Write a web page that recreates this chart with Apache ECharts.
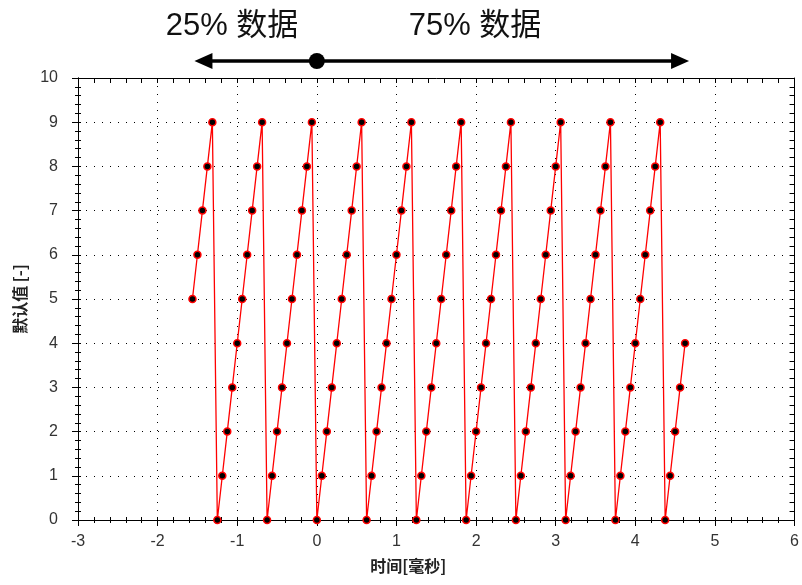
<!DOCTYPE html>
<html>
<head>
<meta charset="utf-8">
<script src="https://cdn.jsdelivr.net/npm/echarts@6/dist/echarts.min.js"></script>
<style>
html,body{margin:0;padding:0;background:#fff;}
#chart{width:802px;height:585px;}
</style>
</head>
<body>
<div id="chart"></div>
<script>
// ---- data ----
var times = [
  -1.5625, -1.5, -1.4375, -1.375, -1.3125, -1.25, -1.1875, -1.125, -1.0625, -1,
  -0.9375, -0.875, -0.8125, -0.75, -0.6875, -0.625, -0.5625, -0.5, -0.4375, -0.375,
  -0.3125, -0.25, -0.1875, -0.125, -0.0625, 0, 0.0625, 0.125, 0.1875, 0.25,
  0.3125, 0.375, 0.4375, 0.5, 0.5625, 0.625, 0.6875, 0.75, 0.8125, 0.875,
  0.9375, 1, 1.0625, 1.125, 1.1875, 1.25, 1.3125, 1.375, 1.4375, 1.5,
  1.5625, 1.625, 1.6875, 1.75, 1.8125, 1.875, 1.9375, 2, 2.0625, 2.125,
  2.1875, 2.25, 2.3125, 2.375, 2.4375, 2.5, 2.5625, 2.625, 2.6875, 2.75,
  2.8125, 2.875, 2.9375, 3, 3.0625, 3.125, 3.1875, 3.25, 3.3125, 3.375,
  3.4375, 3.5, 3.5625, 3.625, 3.6875, 3.75, 3.8125, 3.875, 3.9375, 4,
  4.0625, 4.125, 4.1875, 4.25, 4.3125, 4.375, 4.4375, 4.5, 4.5625, 4.625
];
var values = [
  5, 6, 7, 8, 9, 0, 1, 2, 3, 4,
  5, 6, 7, 8, 9, 0, 1, 2, 3, 4,
  5, 6, 7, 8, 9, 0, 1, 2, 3, 4,
  5, 6, 7, 8, 9, 0, 1, 2, 3, 4,
  5, 6, 7, 8, 9, 0, 1, 2, 3, 4,
  5, 6, 7, 8, 9, 0, 1, 2, 3, 4,
  5, 6, 7, 8, 9, 0, 1, 2, 3, 4,
  5, 6, 7, 8, 9, 0, 1, 2, 3, 4,
  5, 6, 7, 8, 9, 0, 1, 2, 3, 4,
  5, 6, 7, 8, 9, 0, 1, 2, 3, 4
];
var xTicks = { min: -3, max: 6, interval: 1 };
var yTicks = { min: 0, max: 10, interval: 1 };
var xTitle = '时间[毫秒]';
var yTitle = '默认值 [-]';
var preLabel = '25% 数据';
var postLabel = '75% 数据';
var triggerTime = 0;

// ---- chart ----
var pairs = times.map(function (t, i) { return [t, values[i]]; });
var FONT = '"Liberation Sans", Arial, "Noto Sans CJK SC", sans-serif';
var CJK = '"Noto Sans CJK SC", "Liberation Sans", sans-serif';
var black = '#000';

function baseAxis(t, extra) {
  var a = {
    type: 'value', min: t.min, max: t.max, interval: t.interval,
    axisLine: { show: true, onZero: false, lineStyle: { color: black, width: 1 } },
    axisTick: { show: true, inside: false, length: 6, lineStyle: { color: black, width: 1 } },
    minorTick: { show: true, splitNumber: 5, length: 3, lineStyle: { color: black, width: 1 } },
    axisLabel: { show: false },
    splitLine: { show: false },
    minorSplitLine: { show: false }
  };
  for (var k in extra) a[k] = extra[k];
  return a;
}

var chart = echarts.init(document.getElementById('chart'), null, { renderer: 'canvas' });
var option = {
  backgroundColor: '#fff',
  animation: false,
  grid: { left: 78, right: 6, top: 78, bottom: 65, containLabel: false },
  xAxis: [
    baseAxis(xTicks, {
      position: 'bottom',
      axisLabel: { show: true, color: '#333', fontSize: 16, fontFamily: FONT, margin: 14 },
      splitLine: { show: true, lineStyle: { color: black, width: 1, type: [1, 7] } },
      name: xTitle, nameLocation: 'middle', nameGap: 38,
      nameTextStyle: { fontFamily: CJK, fontWeight: 'bold', fontSize: 16, color: '#222', padding: [0, 56, 0, 0] }
    }),
    baseAxis(xTicks, {
      position: 'bottom',
      axisTick: { show: true, inside: true, length: 3, lineStyle: { color: black } },
      minorTick: { show: true, splitNumber: 5, length: 3, lineStyle: { color: black } }
    }),
    baseAxis(xTicks, {
      position: 'top',
      axisTick: { show: true, inside: true, length: 5, lineStyle: { color: black } },
      minorTick: { show: true, splitNumber: 5, length: 5, lineStyle: { color: black } }
    })
  ],
  yAxis: [
    baseAxis(yTicks, {
      position: 'left',
      axisLabel: { show: true, color: '#333', fontSize: 16, fontFamily: FONT, margin: 20 },
      splitLine: { show: true, lineStyle: { color: black, width: 1, type: [1, 7] } },
      name: yTitle, nameLocation: 'middle', nameGap: 50,
      nameTextStyle: { fontFamily: CJK, fontWeight: 'bold', fontSize: 16, color: '#222' }
    }),
    baseAxis(yTicks, {
      position: 'left',
      axisTick: { show: true, inside: true, length: 3, lineStyle: { color: black } },
      minorTick: { show: true, splitNumber: 5, length: 3, lineStyle: { color: black } }
    }),
    baseAxis(yTicks, {
      position: 'right',
      axisTick: { show: true, inside: true, length: 5, lineStyle: { color: black } },
      minorTick: { show: true, splitNumber: 5, length: 5, lineStyle: { color: black } }
    })
  ],
  series: [{
    type: 'line',
    xAxisIndex: 0, yAxisIndex: 0,
    data: pairs,
    symbol: 'circle',
    symbolSize: 7,
    showAllSymbol: true,
    itemStyle: { color: '#000', borderColor: '#ff0000', borderWidth: 1.5 },
    lineStyle: { color: '#ff0000', width: 1.3 },
    clip: false,
    z: 5
  }]
};
chart.setOption(option);

// ---- annotation: 25% / 75% pre-trigger arrow ----
var pStart = chart.convertToPixel({ xAxisIndex: 0 }, times[0]);
var pEnd = chart.convertToPixel({ xAxisIndex: 0 }, times[times.length - 1]);
var pTrig = chart.convertToPixel({ xAxisIndex: 0 }, triggerTime);
var arrowY = 61;
var left = pStart + 2, right = pEnd + 4, headL = 18, headH = 8;
chart.setOption({
  graphic: [
    { type: 'line', shape: { x1: left + headL - 2, y1: arrowY, x2: right - headL + 2, y2: arrowY },
      style: { stroke: black, lineWidth: 3.5 } },
    { type: 'polygon', shape: { points: [[left, arrowY], [left + headL, arrowY - headH], [left + headL, arrowY + headH]] },
      style: { fill: black } },
    { type: 'polygon', shape: { points: [[right, arrowY], [right - headL, arrowY - headH], [right - headL, arrowY + headH]] },
      style: { fill: black } },
    { type: 'circle', shape: { cx: pTrig, cy: arrowY, r: 8 }, style: { fill: black } },
    { type: 'text', x: 232, y: 26,
      style: { text: preLabel, font: 'normal 31px ' + FONT, fill: '#111', align: 'center', verticalAlign: 'middle' } },
    { type: 'text', x: 475, y: 26,
      style: { text: postLabel, font: 'normal 31px ' + FONT, fill: '#111', align: 'center', verticalAlign: 'middle' } }
  ]
});
</script>
</body>
</html>
